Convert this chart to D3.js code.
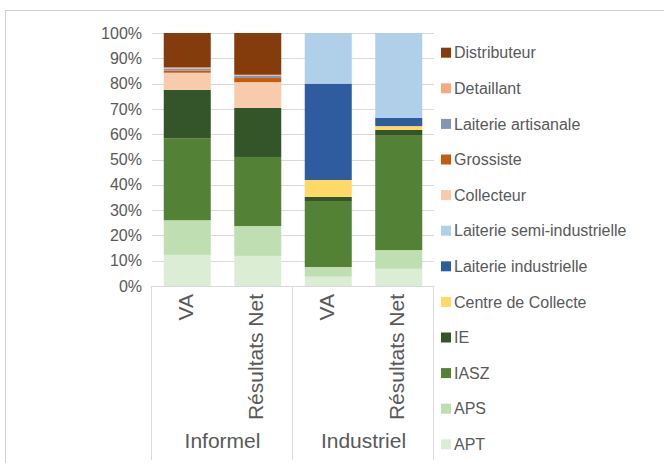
<!DOCTYPE html>
<html>
<head>
<meta charset="utf-8">
<script src="https://cdn.jsdelivr.net/npm/d3@7"></script>
<style>
  html, body { margin: 0; padding: 0; background: #fff; }
  svg { display: block; font-family: "Liberation Sans", Arial, sans-serif; }
</style>
</head>
<body>
<svg id="chart" width="664" height="463"></svg>
<script>
// ---- data ----
const categories = ["VA", "Résultats Net", "VA", "Résultats Net"];
const groups = ["Informel", "Industriel"];
const yTicks = [0, 0.1, 0.2, 0.3, 0.4, 0.5, 0.6, 0.7, 0.8, 0.9, 1.0];

// stacking order (bottom to top)
const seriesNames = ["APT", "APS", "IASZ", "IE", "Centre de Collecte", "Laiterie industrielle",
  "Laiterie semi-industrielle", "Collecteur", "Grossiste", "Laiterie artisanale", "Detaillant", "Distributeur"];
const seriesColors = ["#dbeed5", "#bfdfb2", "#538135", "#34542a", "#ffd966", "#2e5c9e",
  "#b0cfe8", "#f8cbad", "#c55a11", "#8497b0", "#f5aa80", "#843c0c"];

// values (%) per category: Informel VA, Informel RN, Industriel VA, Industriel RN
const APT          = [12.3, 11.9, 3.7, 6.8];
const APS          = [13.7, 11.8, 3.8, 7.4];
const IASZ         = [32.4, 27.3, 26.1, 45.2];
const IE           = [19.1, 19.4, 1.6, 2.3];
const CentreColl   = [0, 0, 6.7, 1.5];
const LaitInd      = [0, 0, 38.1, 3.3];
const LaitSemiInd  = [0, 0, 20.0, 33.5];
const Collecteur   = [6.8, 10.2, 0, 0];
const Grossiste    = [0.8, 1.6, 0, 0];
const LaitArt      = [0.8, 0.9, 0, 0];
const Detaillant   = [0.5, 0.4, 0, 0];
const Distributeur = [13.6, 16.5, 0, 0];

const seriesValues = [APT, APS, IASZ, IE, CentreColl, LaitInd, LaitSemiInd, Collecteur, Grossiste, LaitArt, Detaillant, Distributeur];

// ---- build table ----
const table = categories.map((c, i) => {
  const row = { idx: i };
  seriesNames.forEach((s, k) => { row[s] = seriesValues[k][i] / 100; });
  return row;
});

const svg = d3.select("#chart");
const textColor = "#595959";
const gridColor = "#d9d9d9";

// outer frame
svg.append("rect").attr("x", 5.5).attr("y", 10.5).attr("width", 700).attr("height", 500)
  .attr("fill", "none").attr("stroke", "#d0d0d0");

const plotLeft = 152, plotRight = 434, plotTop = 33, plotBottom = 286;

const x = d3.scaleBand().domain(d3.range(categories.length))
  .range([plotLeft, plotRight]).paddingInner(1/3).paddingOuter(1/6);
const y = d3.scaleLinear().domain([0, 1]).range([plotBottom, plotTop]);

// gridlines
svg.append("g").selectAll("line").data(yTicks).join("line")
  .attr("x1", plotLeft).attr("x2", plotRight)
  .attr("y1", d => Math.round(y(d)) + 0.5).attr("y2", d => Math.round(y(d)) + 0.5)
  .attr("stroke", gridColor).attr("stroke-width", 1);

// y axis labels
const yAxis = d3.axisLeft(y).tickValues(yTicks).tickFormat(d3.format(".0%")).tickSize(0).tickPadding(0);
const yg = svg.append("g").attr("transform", `translate(142,0)`).call(yAxis);
yg.select(".domain").remove();
yg.selectAll("text").attr("font-size", 16).attr("fill", textColor)
  .attr("font-family", "Liberation Sans, Arial, sans-serif");

// stacked bars
const stack = d3.stack().keys(seriesNames);
const stacked = stack(table);
svg.append("g").selectAll("g").data(stacked).join("g")
  .attr("fill", (d, i) => seriesColors[i])
  .selectAll("rect").data(d => d).join("rect")
  .attr("x", d => x(d.data.idx))
  .attr("width", x.bandwidth())
  .attr("y", d => y(d[1]))
  .attr("height", d => Math.max(0, y(d[0]) - y(d[1])));

// category axis box lines
const axisG = svg.append("g").attr("stroke", gridColor).attr("stroke-width", 1);
axisG.append("line").attr("x1", plotLeft).attr("x2", plotRight)
  .attr("y1", plotBottom + 0.5).attr("y2", plotBottom + 0.5);
const groupEdges = [x(0) - x.step() * x.paddingOuter(),
  x(2) - x.step() * x.paddingInner() / 2 - 0.5 + x.step()*0,
  plotRight];
const sep = [plotLeft, (x(1) + x.bandwidth() + x(2)) / 2, plotRight];
axisG.selectAll("line.v").data(sep).join("line").attr("class", "v")
  .attr("x1", d => Math.round(d) - 0.5).attr("x2", d => Math.round(d) - 0.5)
  .attr("y1", plotBottom).attr("y2", 460);

// category labels (rotated)
svg.append("g").selectAll("text").data(categories).join("text")
  .attr("transform", (d, i) => `translate(${x(i) + x.bandwidth() / 2 - 2},294) rotate(-90)`)
  .attr("text-anchor", "end").attr("dy", "0.35em")
  .attr("font-size", 21).attr("fill", textColor)
  .text(d => d);

// group labels
svg.append("g").selectAll("text").data(groups).join("text")
  .attr("x", (d, i) => (sep[i] + sep[i + 1]) / 2)
  .attr("y", 448)
  .attr("text-anchor", "middle")
  .attr("font-size", 21).attr("fill", textColor)
  .text(d => d);

// legend (top to bottom reverse of stack)
const legendItems = seriesNames.map((s, i) => ({ name: s, color: seriesColors[i] })).reverse();
const lg = svg.append("g").selectAll("g").data(legendItems).join("g")
  .attr("transform", (d, i) => `translate(441,${52.7 + i * 35.6})`);
lg.append("rect").attr("x", 0).attr("y", -5).attr("width", 10).attr("height", 10)
  .attr("fill", d => d.color);
lg.append("text").attr("x", 13).attr("dy", "0.35em")
  .attr("font-size", 16).attr("fill", textColor).text(d => d.name);
</script>
</body>
</html>
